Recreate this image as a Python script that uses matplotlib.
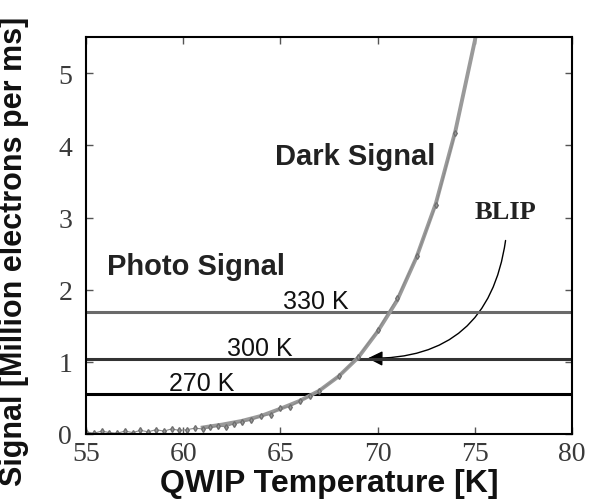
#import libraries
import matplotlib
matplotlib.use("Agg")
from matplotlib import pyplot as plt
from matplotlib.patches import FancyArrowPatch
from matplotlib.transforms import ScaledTranslation

#dark signal fit curve
fit_temp = [61, 62, 63, 64, 65, 66, 67, 68, 69, 70, 71, 72, 73, 74, 75, 75.5]
fit_signal = [0.09, 0.13, 0.18, 0.25, 0.35, 0.46, 0.60, 0.80,
              1.06, 1.42, 1.85, 2.45, 3.20, 4.20, 5.45, 6.2]
#measured dark signal points (noisy at low temperature)
meas_temp = [55.0, 55.4, 55.8, 56.2, 56.6, 57.0, 57.4, 57.8, 58.2, 58.6, 59.0, 59.4, 59.8, 60.2,
             60.6, 61.0, 61.4, 61.8, 62.2, 62.6, 63.0, 63.5, 64.0, 64.5, 65.0, 65.5, 66.0, 66.5,
             67.0, 68.0, 69.0, 70.0, 71.0, 72.0, 73.0, 74.0]
meas_signal = [0.03, 0.01, 0.04, 0.02, 0.01, 0.04, 0.02, 0.05, 0.03, 0.06, 0.04, 0.07, 0.05, 0.06,
               0.08, 0.07, 0.09, 0.11, 0.10, 0.14, 0.17, 0.19, 0.25, 0.27, 0.36, 0.38, 0.46, 0.52,
               0.60, 0.80, 1.07, 1.44, 1.88, 2.46, 3.17, 4.17]
#photo signal levels
scene_labels = ["330 K", "300 K", "270 K"]
scene_signal = [1.69, 1.04, 0.56]
scene_colors = ["#6a6a6a", "#333333", "#000000"]
label_temp = [66.8, 63.95, 60.97]

fig = plt.figure(figsize=(5.99, 5.02), dpi=100)
ax = fig.add_axes([0.1436, 0.1335, 0.8114, 0.7905])

#horizontal photo signal lines
for lab, s, c, lx in zip(scene_labels, scene_signal, scene_colors, label_temp):
    ax.axhline(s, color=c, lw=2.2)
    ax.text(lx, s + 0.05, lab, ha="center", va="baseline", fontsize=18,
            family="Liberation Sans", color="#111111")

#dark signal
ax.plot(fit_temp, fit_signal, color="#9a9a9a", lw=2.8)
ax.plot(meas_temp, meas_signal, color="#8a8a8a", lw=0.8, marker="d", ms=3.0,
        markerfacecolor="#9a9a9a", markeredgecolor="#707070")

#annotations
ax.text(68.87, 3.85, "Dark Signal", ha="center", va="center", fontsize=21,
        fontweight="bold", family="Liberation Sans", color="#222222")
ax.text(56.08, 2.33, "Photo Signal", ha="left", va="center", fontsize=21,
        fontweight="bold", family="Liberation Sans", color="#222222")
ax.text(76.6, 3.08, "BLIP", ha="center", va="center", fontsize=19,
        fontweight="bold", family="Liberation Serif", color="#222222")
arrow = FancyArrowPatch((76.6, 2.72), (69.35, 1.05), connectionstyle="arc3,rad=-0.45",
                        arrowstyle="-|>,head_length=9,head_width=4.5", color="black", lw=1.0)
ax.add_patch(arrow)

#axes
ax.set_xlim(55, 80)
ax.set_ylim(0, 5.5)
ax.set_xticks([55, 60, 65, 70, 75, 80])
ax.set_yticks([0, 1, 2, 3, 4, 5])
ax.tick_params(direction="in", top=True, right=True, length=5, width=1, labelsize=20,
               color="#555555", labelcolor="#3a3a3a")
shift = ScaledTranslation(0.06, 0, fig.dpi_scale_trans)
for t in ax.get_xticklabels():
    t.set_family("Liberation Serif")
    t.set_transform(t.get_transform() + shift)
for t in ax.get_yticklabels():
    t.set_family("Liberation Serif")
ax.tick_params(axis="x", pad=5)
ax.tick_params(axis="y", pad=10)
for sp in ax.spines.values():
    sp.set_linewidth(1.5)
fig.text(0.549, 0.036, "QWIP Temperature [K]", ha="center", va="center", fontsize=23,
         fontweight="bold", family="Liberation Sans", color="#111111")
fig.text(0.024, 0.5, "Signal [Million electrons per ms]", ha="center", va="center",
         rotation=90, fontsize=22, fontweight="bold", family="Liberation Sans", color="#111111")

fig.savefig("out.png", dpi=100)
